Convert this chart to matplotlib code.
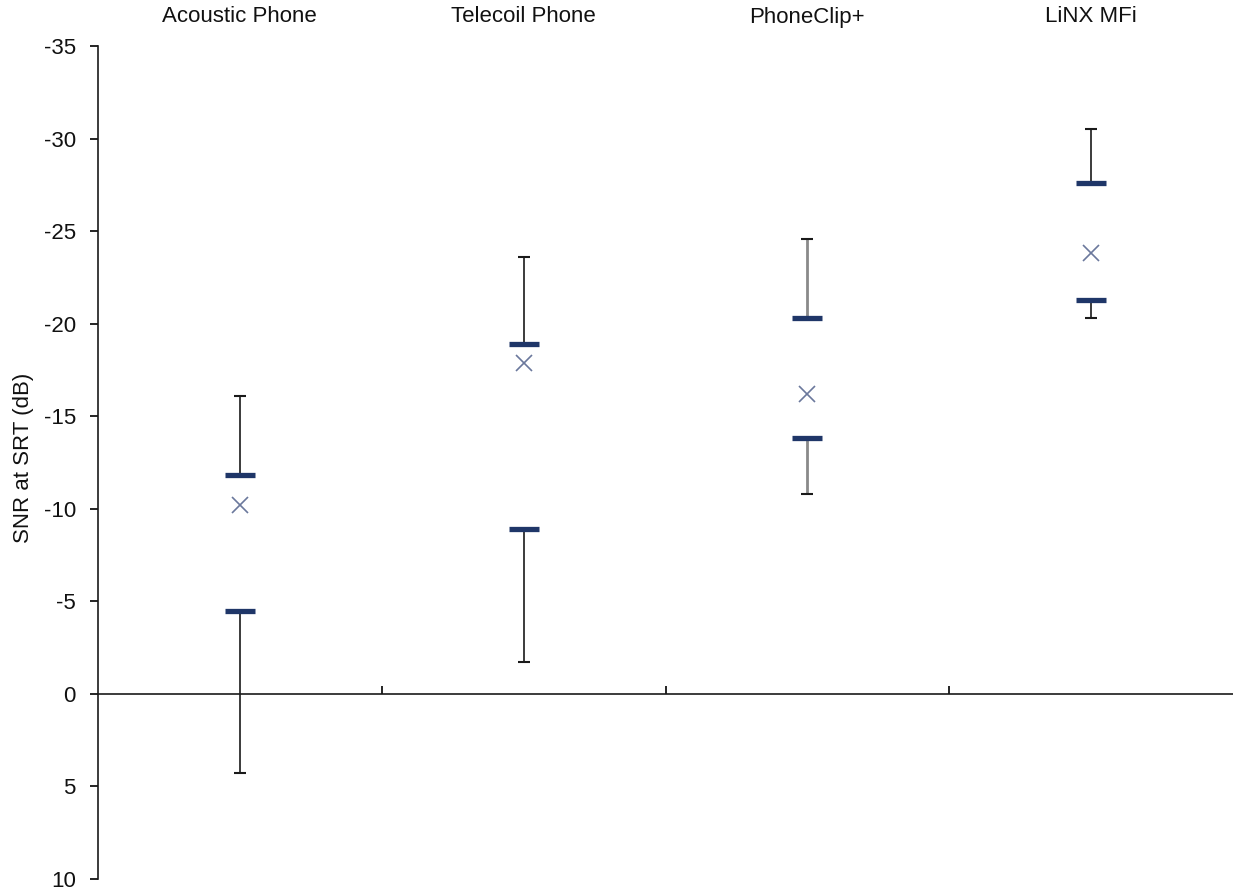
"""SNR at SRT per phone listening condition (high-low style chart)."""
import matplotlib
matplotlib.use('Agg')
import matplotlib.pyplot as plt
import matplotlib.transforms as mtransforms

plt.rcParams['font.family'] = ['Liberation Sans', 'DejaVu Sans']
plt.rcParams['axes.unicode_minus'] = False

# ── Data (dB) ────────────────────────────────────────────────────────────────
categories = ['Acoustic Phone', 'Telecoil Phone', 'PhoneClip+', 'LiNX MFi']
whisker_hi = [-16.1, -23.6, -24.6, -30.5]
quart_hi = [-11.8, -18.9, -20.3, -27.6]
means = [-10.2, -17.9, -16.2, -23.8]
quart_lo = [-4.5, -8.9, -13.8, -21.3]
whisker_lo = [4.3, -1.7, -10.8, -20.3]
y_ticks = [-35, -30, -25, -20, -15, -10, -5, 0, 5, 10]

whisker_colors = ['#1a1a1a', '#1a1a1a', '#8a8a8a', '#1a1a1a']
whisker_lw = [1.2, 1.2, 2.0, 1.2]
NAVY = '#1f3668'
XCOL = '#6b789c'

fig = plt.figure(figsize=(12.33, 8.88), dpi=100)
ax = fig.add_axes([98 / 1233, 9 / 888, 1 - 98 / 1233, (879 - 46) / 888])

x = list(range(len(categories)))

for i in x:
    c, lw = whisker_colors[i], whisker_lw[i]
    # upper whisker and lower whisker with end caps
    ax.vlines(i, whisker_hi[i], quart_hi[i], color=c, lw=lw, zorder=2)
    ax.vlines(i, quart_lo[i], whisker_lo[i], color=c, lw=lw, zorder=2)
    ax.plot([i, i], [whisker_hi[i], whisker_lo[i]], ls='none', marker='_',
            ms=9, mew=1.5, color='#1a1a1a', zorder=3)

ax.plot(x, quart_hi, ls='none', marker='_', ms=22, mew=3.8, color=NAVY, zorder=4)
ax.plot(x, quart_lo, ls='none', marker='_', ms=22, mew=3.8, color=NAVY, zorder=4)
ax.plot(x, means, ls='none', marker='x', ms=11, mew=1.2, color=XCOL, zorder=4)

ax.set_xlim(-0.5, len(categories) - 0.5)
ax.set_ylim(10, -35)
ax.set_yticks(y_ticks)
ax.set_yticklabels([str(t) for t in y_ticks], fontsize=16, color='#111111')
ax.tick_params(axis='y', direction='out', length=6, width=1.2, pad=10)

# x axis sits at 0, boundaries ticked upward
ax.spines['bottom'].set_position(('data', 0))
ax.set_xticks([0.5, 1.5, 2.5])
ax.set_xticklabels([])
ax.tick_params(axis='x', direction='in', length=6, width=1.2)
for side in ('top', 'right'):
    ax.spines[side].set_visible(False)
for side in ('left', 'bottom'):
    ax.spines[side].set_linewidth(1.2)
    ax.spines[side].set_color('#1a1a1a')

# category names along the top
trans = mtransforms.blended_transform_factory(ax.transData, fig.transFigure)
for i, name in enumerate(categories):
    ax.text(i, 1 - 17 / 888, name, transform=trans, ha='center', va='center',
            fontsize=16, color='#111111')

fig.text(24 / 1233, 1 - 458 / 888, 'SNR at SRT (dB)', rotation=90,
         ha='center', va='center', fontsize=16, color='#111111')

fig.savefig('out.png', dpi=100, facecolor='white')
